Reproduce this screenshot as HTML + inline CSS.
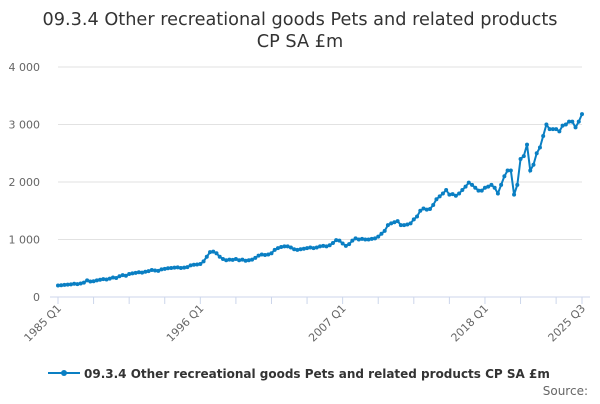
<!DOCTYPE html>
<html><head><meta charset="utf-8"><style>
body{margin:0;background:#fff;font-family:"DejaVu Sans",sans-serif}
</style></head><body>
<svg width="600" height="400" id="c" xmlns="http://www.w3.org/2000/svg" font-family="DejaVu Sans, sans-serif">
<text x="300" y="25" text-anchor="middle" font-size="17.7" fill="#333"><tspan x="300">09.3.4 Other recreational goods Pets and related products</tspan><tspan x="300" dy="22">CP SA £m</tspan></text>
<g id="grid"></g><g id="axis"></g><g id="series"></g>
<g>
<line x1="48" y1="373" x2="80" y2="373" stroke="#0a7fc3" stroke-width="2"/><circle cx="64" cy="373" r="3" fill="#0a7fc3"/>
<text x="84" y="378" font-size="12" font-weight="bold" fill="#333">09.3.4 Other recreational goods Pets and related products CP SA £m</text></g>
<text x="588" y="395" text-anchor="end" font-size="12" fill="#666">Source:</text>
</svg>
<script>
const yTicks=[0,1000,2000,3000,4000];
const yTickLabels=["0","1 000","2 000","3 000","4 000"];
const xLabelIdx=[0,44,88,132,162];
const xLabels=["1985 Q1","1996 Q1","2007 Q1","2018 Q1","2025 Q3"];
const values=[200,205,210,215,220,230,225,235,250,290,270,275,290,300,310,305,320,340,330,360,380,370,400,410,420,430,425,440,450,470,460,455,480,490,500,505,510,515,505,510,520,550,560,565,575,620,700,780,790,760,700,660,640,650,645,660,640,650,630,640,650,680,720,740,730,740,760,820,850,870,880,880,860,830,820,830,840,850,860,850,860,880,890,880,900,940,990,980,930,890,920,980,1020,1000,1010,1000,1000,1010,1020,1050,1100,1150,1250,1280,1300,1320,1250,1250,1260,1280,1350,1400,1500,1540,1520,1530,1600,1700,1750,1800,1860,1780,1790,1760,1800,1860,1920,1990,1950,1900,1850,1850,1900,1920,1950,1900,1800,1950,2100,2200,2200,1780,1950,2400,2450,2650,2200,2300,2500,2600,2800,3000,2920,2920,2920,2880,2980,3000,3050,3050,2950,3050,3180];
const NS="http://www.w3.org/2000/svg";
const x=i=>58+i*(582-58)/162, y=v=>297-v*0.0575;
function mk(t,a,p){const e=document.createElementNS(NS,t);for(const k in a)e.setAttribute(k,a[k]);document.getElementById(p).appendChild(e);return e;}
yTicks.forEach((v,i)=>{
 if(v>0){const l=mk('line',{x1:58,x2:582,y1:y(v),y2:y(v),stroke:'#e2e2e2'},'grid');
 
 }
 const t=mk('text',{x:40,y:y(v)+4,'text-anchor':'end','font-size':11,fill:'#666'},'axis');t.textContent=yTickLabels[i];
 
 
});
const b=mk('line',{x1:50,x2:590,y1:297,y2:297,stroke:'#ccd6eb'},'axis');


for(let i=0;i<=162;i+=11){mk('line',{x1:x(i),x2:x(i),y1:297,y2:304,stroke:'#ccd6eb'},'axis');}
mk('line',{x1:x(162),x2:x(162),y1:297,y2:304,stroke:'#ccd6eb'},'axis');
xLabelIdx.forEach((q,i)=>{const t=mk('text',{x:x(q)+4,y:309,'text-anchor':'end','font-size':11,fill:'#666',transform:`rotate(-45 ${x(q)+4} 309)`},'axis');t.textContent=xLabels[i];
 
 });
const p=mk('polyline',{points:values.map((v,i)=>x(i)+','+y(v)).join(' '),fill:'none',stroke:'#0a7fc3','stroke-width':2},'series');


values.forEach((v,i)=>{const c=mk('circle',{cx:x(i),cy:y(v),r:2,fill:'#0a7fc3'},'series');
 
 });
</script>
</body></html>
